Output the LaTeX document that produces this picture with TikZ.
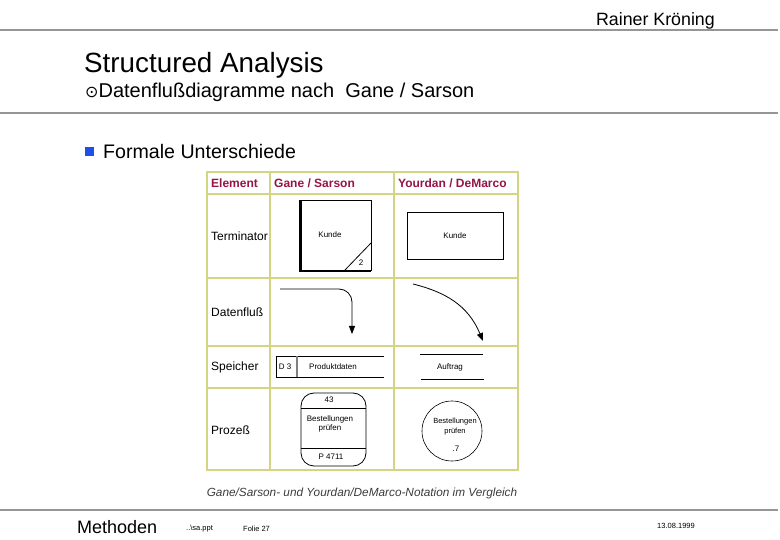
\documentclass[tikz,border=0pt]{standalone}
\usepackage{fontspec}
\setmainfont{Liberation Sans}
\newfontfamily\symfont{DejaVu Sans}
\usetikzlibrary{arrows.meta}
\definecolor{rulegray}{RGB}{150,150,150}
\definecolor{tblline}{RGB}{212,212,130}
\definecolor{hdrcol}{RGB}{150,20,70}
\definecolor{bulletblue}{RGB}{30,80,230}
\definecolor{capgray}{RGB}{60,60,60}
\tikzset{
  rulerline/.style={draw=rulegray,line width=1.6pt},
  tbl/.style={draw=tblline,line width=1.6pt},
  hdr/.style={anchor=west,inner sep=0pt,text=hdrcol,font=\fontsize{12}{14}\selectfont\bfseries},
  rowlbl/.style={anchor=west,inner sep=0pt,font=\fontsize{12}{14}\selectfont},
  tiny/.style={inner sep=0pt,font=\fontsize{8}{9.5}\selectfont},
  shp/.style={draw=black,line width=0.8pt},
  flow/.style={draw=black,line width=0.8pt,-{Triangle[length=8pt,width=6pt]}},
  foot/.style={inner sep=0pt,font=\fontsize{7.5}{8.5}\selectfont},
}
\begin{document}
\begin{tikzpicture}[x=1pt,y=-1pt]
\useasboundingbox[fill=white] (0,0) rectangle (780,540);
% header rules
\draw[rulerline] (0,30) -- (778,30);
\draw[rulerline] (0,113) -- (778,113);
\draw[rulerline] (0,510) -- (778,510);
% header texts
\node[anchor=east,inner sep=0pt,font=\fontsize{17.8}{20}\selectfont] (author) at (715,21) {Rainer Kröning};
\node[anchor=west,inner sep=0pt,font=\fontsize{27.8}{32}\selectfont] (title) at (84,65) {Structured Analysis};
\node[anchor=west,inner sep=0pt,font=\fontsize{20}{23}\selectfont] (subtitle) at (85,92) {{\symfont\fontsize{16}{18}\selectfont ⊙}Datenflußdiagramme nach\ \ Gane / Sarson};
\fill[bulletblue] (85,147) rectangle (94,156);
\node[anchor=west,inner sep=0pt,font=\fontsize{19.6}{23}\selectfont] (bullet) at (103,151) {Formale Unterschiede};
% table
\draw[tbl] (207,172) rectangle (518,470);
\draw[tbl] (270,172) -- (270,470);
\draw[tbl] (394,172) -- (394,470);
\draw[tbl] (207,194) -- (518,194);
\draw[tbl] (207,278) -- (518,278);
\draw[tbl] (207,346) -- (518,346);
\draw[tbl] (207,388) -- (518,388);
\node[hdr] (h1) at (211,183) {Element};
\node[hdr] (h2) at (274,183) {Gane / Sarson};
\node[hdr] (h3) at (398,183) {Yourdan / DeMarco};
\node[rowlbl] (r1) at (211,236) {Terminator};
\node[rowlbl] (r2) at (211,312) {Datenfluß};
\node[rowlbl] (r3) at (211,367) {Speicher};
\node[rowlbl] (r4) at (211,430) {Prozeß};
% Terminator Gane/Sarson
\draw[shp] (300,200) rectangle (371,270);
\draw[black,line width=2.4pt] (300.5,200) -- (300.5,271) -- (371,271);
\draw[shp] (345,270) -- (371,243);
\node[tiny] (gsk) at (330,235) {Kunde};
\node[tiny] (gs2) at (361,263) {2};
% Terminator Yourdan
\draw[shp] (407,212) rectangle (503,259);
\node[tiny] (ydk) at (455,236) {Kunde};
% Datenfluss Gane
\coordinate (gf1) at (280,289);
\coordinate (gf2) at (352,334);
\draw[flow,rounded corners=13pt] (gf1) -| (gf2);
% Datenfluss Yourdan
\coordinate (yf1) at (413,284);
\coordinate (yf2) at (483,341);
\draw[flow] (yf1) .. controls (445,292) and (468,305) .. (yf2);
% Speicher Gane
\draw[shp] (384,356) -- (276,356) -- (276,377) -- (384,377);
\draw[gray,line width=1.2pt] (297,356) -- (297,377);
\node[tiny] (gsd) at (285,367) {D 3};
\node[tiny] (gsp) at (333,367) {Produktdaten};
% Speicher Yourdan
\draw[shp] (420,354) -- (483,354);
\draw[shp] (421,379) -- (484,379);
\node[tiny] (yda) at (450,367) {Auftrag};
% Prozess Gane
\draw[shp,rounded corners=13pt] (301,393) rectangle (366,466);
\draw[shp] (301,408) -- (366,408);
\draw[shp] (301,448) -- (366,448);
\node[tiny] (gp43) at (329,400) {43};
\node[tiny,align=center] (gpb) at (330,424) {Bestellungen\\prüfen};
\node[tiny] (gpp) at (331,457) {P 4711};
% Prozess Yourdan
\draw[shp,line width=0.6pt] (452,431) circle (30);
\node[tiny,font=\fontsize{7.5}{10}\selectfont,align=center] (ypb) at (455,427) {Bestellungen\\prüfen};
\node[tiny] (yp7) at (456,449) {.7};
% caption
\node[inner sep=0pt,text=capgray,font=\fontsize{11.8}{14}\selectfont\itshape] (cap) at (362,493) {Gane/Sarson- und Yourdan/DeMarco-Notation im Vergleich};
% footer
\node[anchor=west,inner sep=0pt,font=\fontsize{18}{21}\selectfont] (meth) at (77,527) {Methoden};
\node[foot,anchor=west] (file) at (186,529) {..\textbackslash sa.ppt};
\node[foot,anchor=west] (folie) at (243,529) {Folie 27};
\node[foot] (date) at (676,526) {13.08.1999};
\end{tikzpicture}
\end{document}
